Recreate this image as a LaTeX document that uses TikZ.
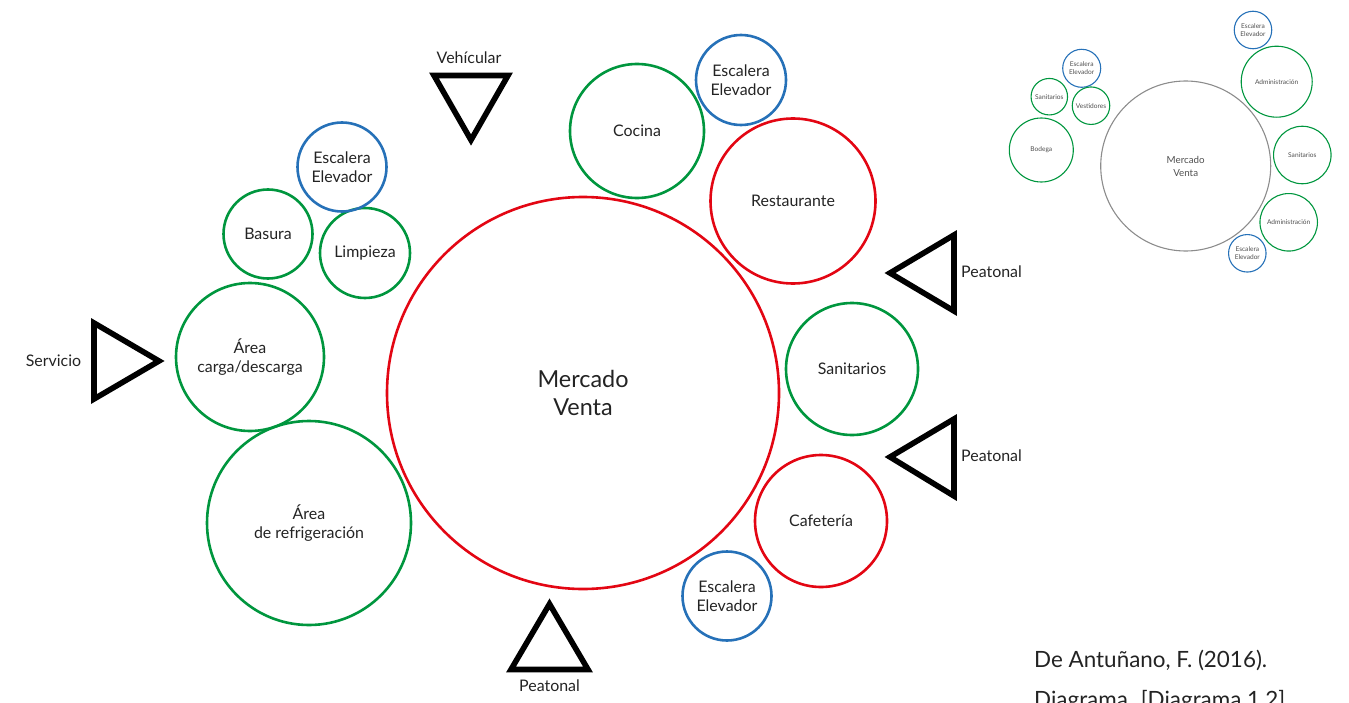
\documentclass[tikz,border=0pt]{standalone}
\usepackage{fontspec}
\setmainfont{Lato}
\definecolor{cgreen}{RGB}{0,150,62}
\definecolor{cred}{RGB}{227,6,19}
\definecolor{cblue}{RGB}{38,113,184}
\definecolor{cgrey}{RGB}{140,140,140}
\definecolor{ctext}{RGB}{35,35,35}
\tikzset{
  zone/.style={circle,draw,line width=2.6bp,inner sep=0pt,align=center,text=ctext,
    font=\fontsize{16}{19}\selectfont},
  gz/.style={zone,draw=cgreen},
  rz/.style={zone,draw=cred},
  bz/.style={zone,draw=cblue},
  mini/.style={circle,draw,line width=1.1bp,inner sep=0pt,align=center,text=ctext!80,
    font=\fontsize{6.6}{7.7}\selectfont},
  gm/.style={mini,draw=cgreen},
  bm/.style={mini,draw=cblue},
  tri/.style={draw=black,line width=5.6bp,line join=miter,miter limit=20},
  lab/.style={text=ctext,font=\fontsize{16}{19}\selectfont,inner sep=0pt},
  cite/.style={anchor=base west,inner sep=0pt,text=ctext,font=\fontsize{22.5}{27}\selectfont},
}
\begin{document}
\begin{tikzpicture}[x=1bp,y=-1bp]
\useasboundingbox (0,0) rectangle (1349,702);
\clip (0,0) rectangle (1349,702);
% main diagram
\node[rz,minimum size=392bp,font=\fontsize{23.5}{29}\selectfont] (mercado) at (583,393) {Mercado\\Venta};
\node[gz,minimum size=134bp] (cocina) at (637,131) {Cocina};
\node[bz,minimum size=90bp] (esc1) at (741,80) {Escalera\\Elevador};
\node[rz,minimum size=165bp] (rest) at (793,201) {Restaurante};
\node[gz,minimum size=132bp] (sani) at (852,369) {Sanitarios};
\node[rz,minimum size=132bp] (cafe) at (821,521) {Cafetería};
\node[bz,minimum size=89bp] (esc2) at (727,596) {Escalera\\Elevador};
\node[gz,minimum size=204bp] (refri) at (309,523) {Área\\de refrigeración};
\node[gz,minimum size=148bp] (carga) at (250,357) {Área\\carga/descarga};
\node[gz,minimum size=89bp] (basura) at (268,234) {Basura};
\node[gz,minimum size=90bp] (limp) at (365,253) {Limpieza};
\node[bz,minimum size=89bp] (esc3) at (342,167) {Escalera\\Elevador};
% access triangles
\draw[tri] (434,75.5) -- (508,75.5) -- (471,140) -- cycle;
\node[lab] (lveh) at (469,57.5) {Vehícular};
\draw[tri] (954,235) -- (954,311) -- (890,273) -- cycle;
\node[lab,anchor=west] (lpe1) at (961,272) {Peatonal};
\draw[tri] (954,419) -- (954,496) -- (890,457) -- cycle;
\node[lab,anchor=west] (lpe2) at (961,456) {Peatonal};
\draw[tri] (94,323) -- (94,399) -- (159,361) -- cycle;
\node[lab] (lserv) at (53.5,361) {Servicio};
\draw[tri] (511,669.5) -- (588,669.5) -- (549.5,604) -- cycle;
\node[lab] (lpe3) at (549.5,686) {Peatonal};
% mini diagram
\node[mini,draw=cgrey,minimum size=170bp,font=\fontsize{9.8}{13}\selectfont] (mmerc) at (1185.7,166) {Mercado\\Venta};
\node[bm,minimum size=37.5bp] (mesc1) at (1253,30) {Escalera\\Elevador};
\node[gm,minimum size=71bp] (madm1) at (1276.7,81.7) {Administración};
\node[gm,minimum size=57.5bp] (msan1) at (1302.3,155) {Sanitarios};
\node[gm,minimum size=57.5bp] (madm2) at (1288.7,222.3) {Administración};
\node[bm,minimum size=37.5bp] (mesc2) at (1247.3,253.3) {Escalera\\Elevador};
\node[bm,minimum size=38bp] (mesc3) at (1081.7,68.3) {Escalera\\Elevador};
\node[gm,minimum size=36.5bp] (msan2) at (1049.3,96.7) {Sanitarios};
\node[gm,minimum size=37.5bp] (mvest) at (1091,105.7) {Vestidores};
\node[gm,minimum size=64bp] (mbod) at (1041.3,150) {Bodega};
% citation
\node[cite] (cita1) at (1034,667.3) {De Antuñano, F. (2016).};
\node[cite] (cita2) at (1034,707.3) {Diagrama. [Diagrama 1.2]};
\end{tikzpicture}
\end{document}
